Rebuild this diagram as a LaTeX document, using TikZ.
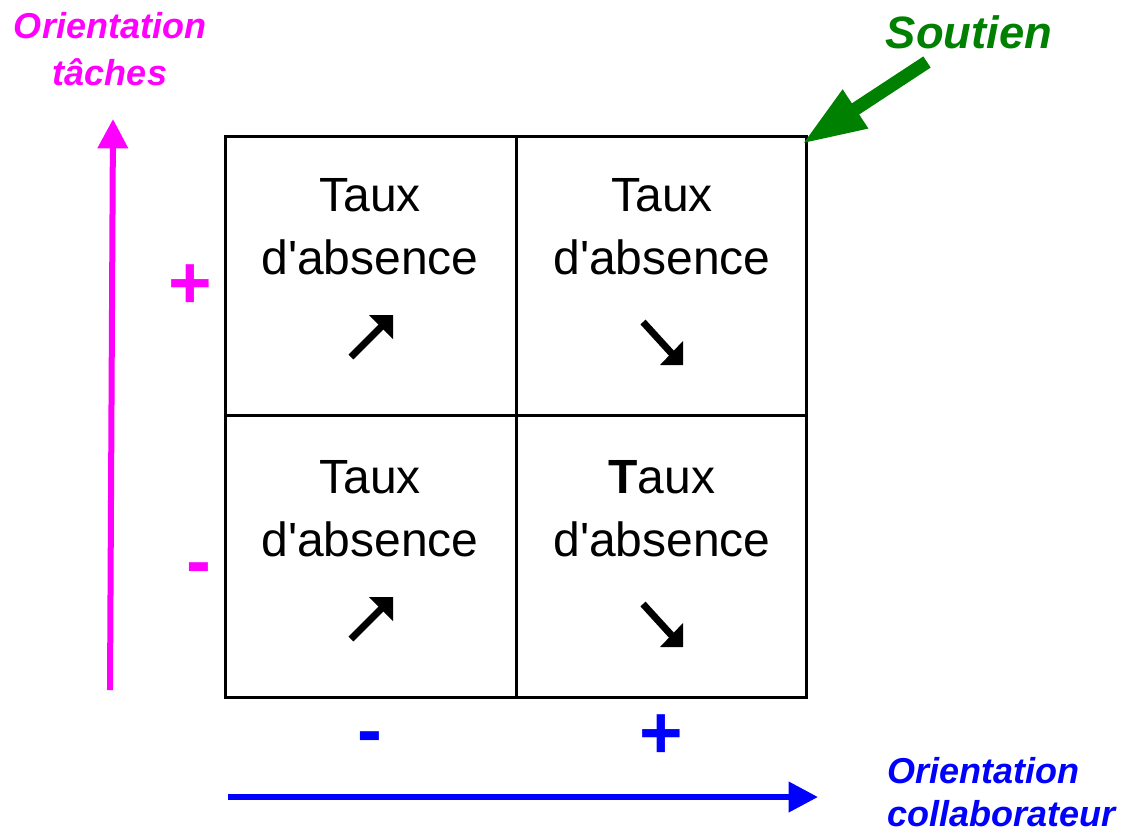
\documentclass[tikz,border=0pt]{standalone}
\usepackage{fontspec}
\setmainfont{Liberation Sans}
\usetikzlibrary{arrows.meta}
\definecolor{mag}{RGB}{255,0,255}
\definecolor{blu}{RGB}{0,0,255}
\definecolor{grn}{RGB}{0,128,0}
\tikzset{
  celltext/.style={anchor=base, inner sep=0pt, font=\fontsize{36}{40}\selectfont},
  axislabel/.style={inner sep=0pt, font=\fontsize{27}{32}\selectfont\bfseries\itshape},
  sign/.style={inner sep=0pt, font=\fontsize{56}{60}\selectfont\bfseries},
  grid/.style={line width=2.25pt, black},
  shaft/.style={line width=5.25pt, line cap=butt},
}
\begin{document}
\begin{tikzpicture}[x=0.75pt, y=-0.75pt]
\useasboundingbox (0,0) rectangle (1126,833);
% grid
\coordinate (tl) at (225,136);
\coordinate (br) at (806,697);
\draw[grid] (tl) rectangle (br);
\draw[grid] (516,136) -- (516,697);
\draw[grid] (225,415) -- (806,415);
% cell texts
\node[celltext] (t1) at (370,211) {Taux};
\node[celltext] (d1) at (370,274) {d\textquotesingle absence};
\node[celltext] (t2) at (662,211) {Taux};
\node[celltext] (d2) at (662,274) {d\textquotesingle absence};
\node[celltext] (t3) at (370,493) {Taux};
\node[celltext] (d3) at (370,556) {d\textquotesingle absence};
\node[celltext] (t4) at (662,493) {\textbf{T}aux};
\node[celltext] (d4) at (662,556) {d\textquotesingle absence};
% cell arrows
\draw[shaft] (351,357) -- (384,324);
\fill (393,315) -- (369,315) -- (393,339) -- cycle;
\draw[shaft] (351,639) -- (384,606);
\fill (393,597) -- (369,597) -- (393,621) -- cycle;
\draw[shaft] (643,322) -- (674,356);
\fill (683,365) -- (683,341) -- (660,365) -- cycle;
\draw[shaft] (643,604) -- (674,638);
\fill (683,647) -- (683,623) -- (660,647) -- cycle;
% vertical axis
\coordinate (vs) at (110,690);
\coordinate (ve) at (113,119);
\draw[mag, line width=4.5pt, -{Triangle[length=22pt, width=22pt]}] (vs) -- (ve);
% horizontal axis
\coordinate (hs) at (228,797);
\coordinate (he) at (818,797);
\draw[blu, line width=4.5pt, -{Triangle[length=22pt, width=22pt]}] (hs) -- (he);
% soutien arrow
\coordinate (ss) at (927,62);
\coordinate (se) at (802,144);
\draw[grn, line width=10pt, -{Triangle[length=48pt, width=32pt]}] (ss) -- (se);
% labels
\node[axislabel, mag, anchor=base] (o1) at (110,38) {Orientation};
\node[axislabel, mag, anchor=base] (o2) at (110,85) {tâches};
\node[axislabel, grn, anchor=base, font=\fontsize{34}{40}\selectfont\bfseries\itshape] (so) at (969,48) {Soutien};
\node[axislabel, blu, anchor=base west] (o3) at (887,783) {Orientation};
\node[axislabel, blu, anchor=base west] (o4) at (887,826) {collaborateur};
% signs
\node[sign, mag] (p1) at (190,287) {+};
\node[sign, mag] (m1) at (199,575) {-};
\node[sign, blu] (m2) at (370,744) {-};
\node[sign, blu] (p2) at (661,737) {+};
\end{tikzpicture}
\end{document}
